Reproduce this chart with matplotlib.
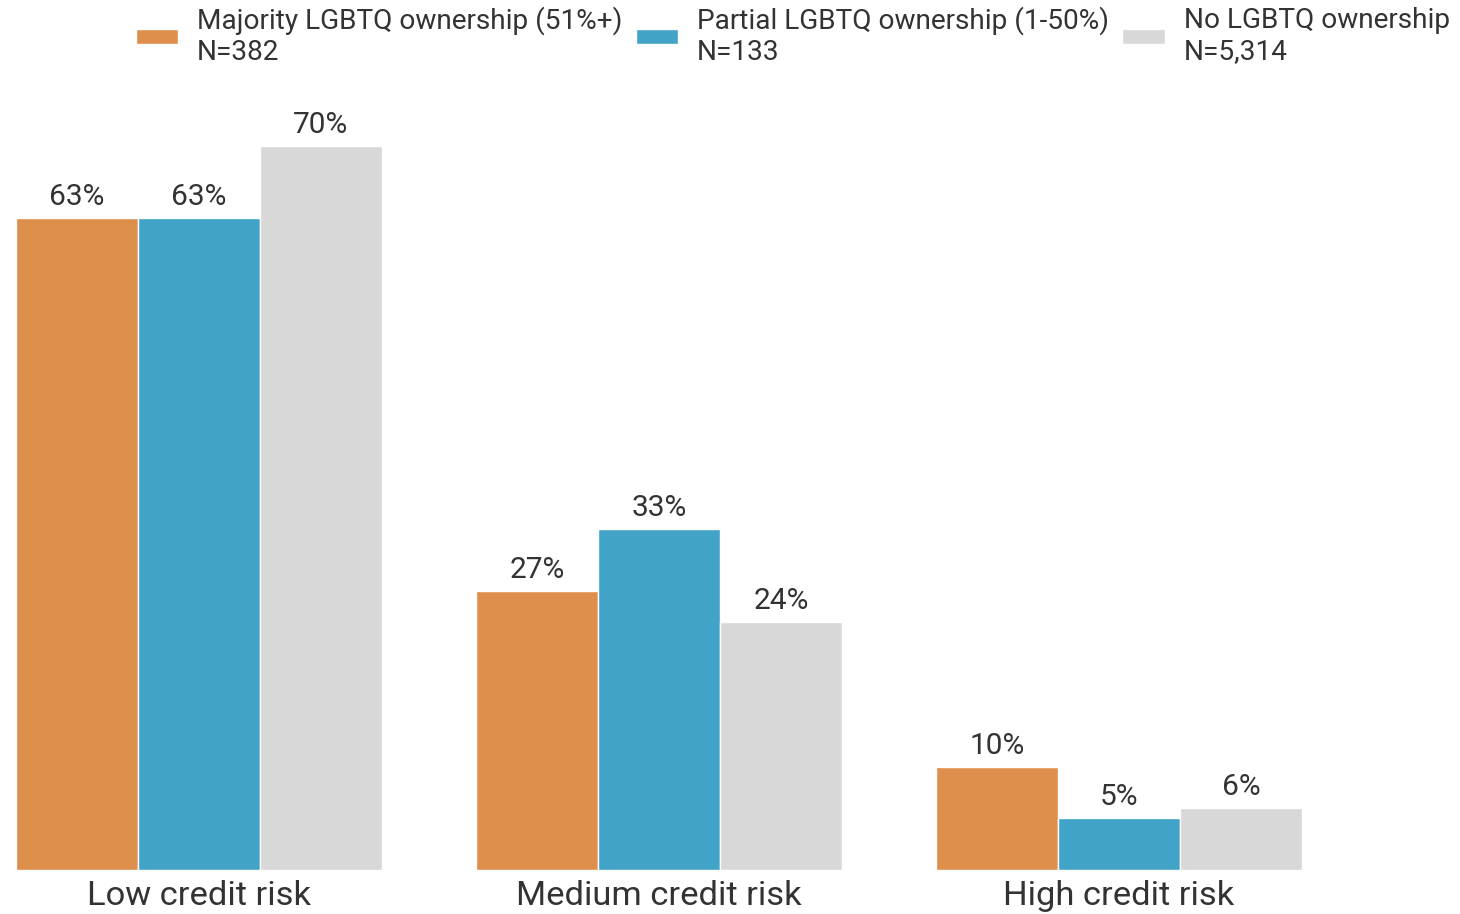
import numpy as np
import matplotlib.pyplot as plt

# 데이터
categories = ['Low credit risk', 'Medium credit risk', 'High credit risk']
series_names = ['Majority LGBTQ ownership (51%+)\nN=382',
                'Partial LGBTQ ownership (1-50%)\nN=133',
                'No LGBTQ ownership\nN=5,314']
majority = [63, 27, 10]
partial = [63, 33, 5]
no_lgbtq = [70, 24, 6]

colors = ['#DE8F4B', '#42A3C8', '#D8D8D8']

plt.rcParams['font.family'] = ['Roboto', 'DejaVu Sans']

fig = plt.figure(figsize=(14.6, 9.14), dpi=100)
ax = fig.add_axes([0, 44 / 914, 1, 750 / 914])

x = np.arange(len(categories))
w = 0.265
values = [majority, partial, no_lgbtq]
bars = []
for i, vals in enumerate(values):
    b = ax.bar(x + (i - 1) * w, vals, w, color=colors[i], edgecolor='white',
               linewidth=1, label=series_names[i])
    bars.append(b)
    # 막대 위 퍼센트 표시
    for rect, v in zip(b, vals):
        ax.annotate('{}%'.format(v), (rect.get_x() + rect.get_width() / 2, rect.get_height()),
                    xytext=(0, 5), textcoords='offset points', ha='center', va='bottom',
                    fontsize=21.5, color='#333333')

ax.set_xlim(-0.4326, 2.741)
ax.set_ylim(0, 72.5)
ax.set_xticks(x)
ax.set_xticklabels(categories, fontsize=24.8, color='#333333')
ax.tick_params(axis='x', length=0, pad=7)
ax.set_yticks([])
for s in ax.spines.values():
    s.set_visible(False)

fig.legend(handles=bars, labels=series_names, loc='upper left',
           bbox_to_anchor=(133 / 1460, 1 - 3 / 914), ncol=3, frameon=False,
           fontsize=20.2, handlelength=1.5, handleheight=0.43,
           handletextpad=0.68, columnspacing=0.48, borderaxespad=0,
           borderpad=0.1, labelcolor='#333333')

fig.savefig('out.png', dpi=100)
